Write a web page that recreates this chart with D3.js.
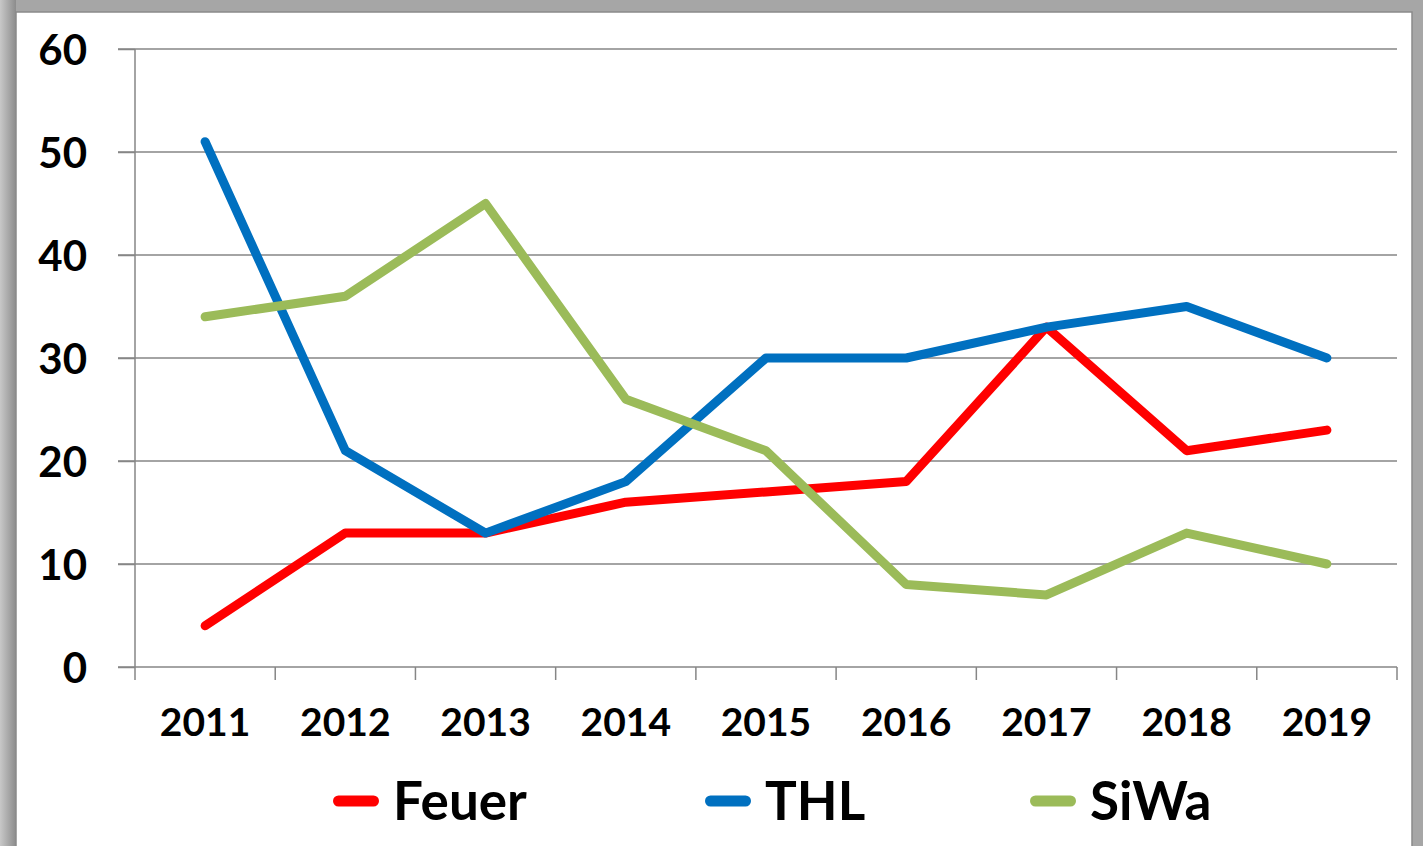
<!DOCTYPE html>
<html>
<head>
<meta charset="utf-8">
<script src="https://cdn.jsdelivr.net/npm/d3@7"></script>
<style>
  body { margin: 0; background: #fff; }
  text { font-family: Lato, "Open Sans", sans-serif; font-weight: bold; fill: #000; }
</style>
</head>
<body>
<div id="chart"></div>
<script>
// data
var years = ["2011", "2012", "2013", "2014", "2015", "2016", "2017", "2018", "2019"];
var feuer = [4, 13, 13, 16, 17, 18, 33, 21, 23];
var thl = [51, 21, 13, 18, 30, 30, 33, 35, 30];
var siwa = [34, 36, 45, 26, 21, 8, 7, 13, 10];
var yTicks = [0, 10, 20, 30, 40, 50, 60];
var seriesNames = ["Feuer", "THL", "SiWa"];
var seriesColors = ["#ff0000", "#0070c0", "#9bbb59"];

var series = [feuer, thl, siwa].map(function(v, i) {
  return { name: seriesNames[i], color: seriesColors[i], values: v };
});

var W = 1423, H = 846;
var margin = { top: 49, right: 26, bottom: 179, left: 135 };

var svg = d3.select("#chart").append("svg")
    .attr("width", W)
    .attr("height", H);

// grey frame / shadow
var defs = svg.append("defs");
var grad = defs.append("linearGradient").attr("id", "shadowL").attr("x1", 0).attr("x2", 1);
grad.append("stop").attr("offset", "0%").attr("stop-color", "#c8c8c8");
grad.append("stop").attr("offset", "100%").attr("stop-color", "#8c8c8c");

svg.append("rect").attr("width", W).attr("height", H).attr("fill", "#a6a6a6");
svg.append("rect").attr("x", 0).attr("y", 0).attr("width", 16).attr("height", H).attr("fill", "url(#shadowL)");
svg.append("rect")
    .attr("x", 16).attr("y", 12)
    .attr("width", 1396).attr("height", H)
    .attr("fill", "#fff")
    .attr("stroke", "#8a8a8a")
    .attr("stroke-width", 1.5);

var x = d3.scaleBand()
    .domain(years)
    .range([margin.left, W - margin.right])
    .paddingInner(0).paddingOuter(0);

var y = d3.scaleLinear()
    .domain([0, 60])
    .range([H - margin.bottom, margin.top]);

// gridlines
svg.append("g")
  .selectAll("line")
  .data(yTicks.filter(function(d) { return d > 0; }))
  .enter().append("line")
    .attr("x1", margin.left - 17)
    .attr("x2", W - margin.right)
    .attr("y1", function(d) { return y(d); })
    .attr("y2", function(d) { return y(d); })
    .attr("stroke", "#868686")
    .attr("stroke-width", 1.5);

// y axis
var yAxis = svg.append("g")
    .attr("transform", "translate(" + margin.left + ",0)")
    .call(d3.axisLeft(y).tickValues(yTicks).tickSize(17).tickPadding(31));
yAxis.selectAll("text").style("font-size", "42px").attr("dy", "0.36em");
yAxis.selectAll("line, path").attr("stroke", "#868686").attr("stroke-width", 1.5);
yAxis.select(".domain").attr("d", "M0," + y(0) + "V" + y(60));

// x axis with ticks on category borders
var xAxis = svg.append("g")
    .attr("transform", "translate(0," + y(0) + ")");
xAxis.append("line")
    .attr("x1", margin.left - 17).attr("x2", W - margin.right)
    .attr("stroke", "#868686").attr("stroke-width", 1.5);
xAxis.selectAll("line.tick")
  .data(d3.range(years.length + 1))
  .enter().append("line")
    .attr("class", "tick")
    .attr("x1", function(i) { return margin.left + i * x.bandwidth(); })
    .attr("x2", function(i) { return margin.left + i * x.bandwidth(); })
    .attr("y1", 0).attr("y2", 13)
    .attr("stroke", "#868686").attr("stroke-width", 1.5);
xAxis.selectAll("text")
  .data(years)
  .enter().append("text")
    .attr("x", function(d) { return x(d) + x.bandwidth() / 2; })
    .attr("y", 69)
    .attr("text-anchor", "middle")
    .style("font-size", "39px")
    .text(function(d) { return d; });

// lines
var line = d3.line()
    .x(function(d, i) { return x(years[i]) + x.bandwidth() / 2; })
    .y(function(d) { return y(d); });

svg.append("g")
  .selectAll("path")
  .data(series)
  .enter().append("path")
    .attr("d", function(s) { return line(s.values); })
    .attr("fill", "none")
    .attr("stroke", function(s) { return s.color; })
    .attr("stroke-width", 9)
    .attr("stroke-linecap", "round")
    .attr("stroke-linejoin", "round");

// legend
var legendX = [333, 705, 1030];
var legend = svg.append("g")
  .selectAll("g")
  .data(series)
  .enter().append("g")
    .attr("transform", function(d, i) { return "translate(" + legendX[i] + ",801)"; });
legend.append("line")
    .attr("x1", 5.5).attr("x2", 40.5)
    .attr("stroke", function(d) { return d.color; })
    .attr("stroke-width", 11)
    .attr("stroke-linecap", "round");
legend.append("text")
    .attr("x", 60)
    .attr("dy", "0.36em")
    .style("font-size", "53px")
    .text(function(d) { return d.name; });
</script>
</body>
</html>
